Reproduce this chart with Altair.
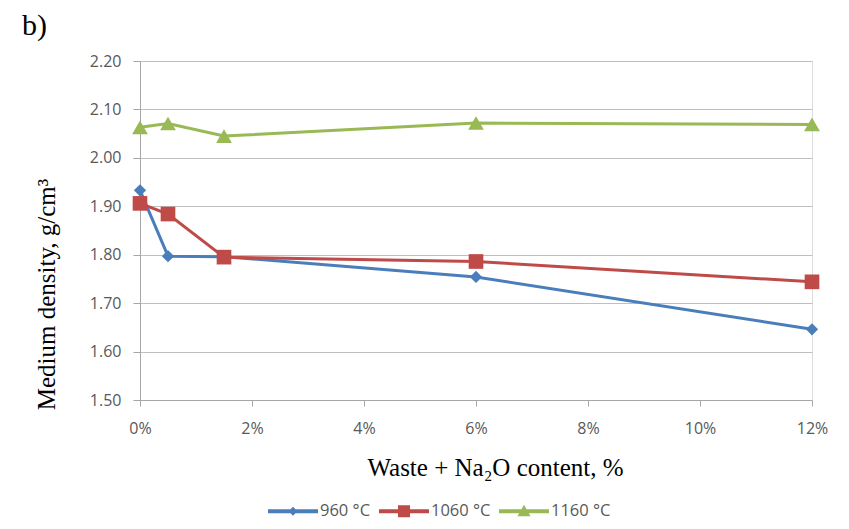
import altair as alt
import pandas as pd

# ---- data ----
x_pct = [0, 0.5, 1.5, 6, 12]
series_names = ["960 °C", "1060 °C", "1160 °C"]
d960 = [1.933, 1.797, 1.796, 1.754, 1.646]
d1060 = [1.906, 1.884, 1.795, 1.786, 1.744]
d1160 = [2.063, 2.071, 2.045, 2.072, 2.069]
y_ticks = [1.5, 1.6, 1.7, 1.8, 1.9, 2.0, 2.1, 2.2]
x_ticks = [0, 2, 4, 6, 8, 10, 12]

colors = ["#4A7EBB", "#BE4B48", "#98B954"]
marker_shapes = ["diamond", "square", "triangle-up"]
marker_sizes = [150, 215, 250]
legend_paths = [
    "M-1,-0.08L1,-0.08L1,0.08L-1,0.08Z M0,-0.18L0.18,0L0,0.18L-0.18,0Z",
    "M-1,-0.08L1,-0.08L1,0.08L-1,0.08Z M-0.24,-0.24L0.24,-0.24L0.24,0.24L-0.24,0.24Z",
    "M-1,-0.08L1,-0.08L1,0.08L-1,0.08Z M0,-0.26L0.26,0.2L-0.26,0.2Z",
]

rows = []
for name, vals in zip(series_names, [d960, d1060, d1160]):
    for xv, yv in zip(x_pct, vals):
        rows.append({"series": name, "x": xv, "y": yv})
df = pd.DataFrame(rows)

SANS = "Open Sans"
SERIF = "Liberation Serif"
GRAY_TXT = "#595959"

x_enc = alt.X(
    "x:Q",
    scale=alt.Scale(domain=[0, 12], nice=False, zero=True),
    axis=alt.Axis(
        values=x_ticks,
        labelExpr="datum.value + '%'",
        labelFlush=False,
        grid=False,
        tickSize=6,
        tickColor="#A6A6A6",
        domainColor="#A6A6A6",
        labelFont=SANS,
        labelFontSize=16,
        labelColor=GRAY_TXT,
        labelPadding=14,
        title="Waste + Na₂O content, %",
        titleFont=SERIF,
        titleFontSize=25,
        titleFontWeight="normal",
        titleColor="#000000",
        titleX=355,
        titleY=75,
        titleBaseline="alphabetic",
        titleAlign="center",
    ),
)
y_enc = alt.Y(
    "y:Q",
    scale=alt.Scale(domain=[1.5, 2.2], nice=False, zero=False),
    axis=alt.Axis(
        values=y_ticks,
        format=".2f",
        grid=True,
        gridColor="#BFBFBF",
        gridWidth=1,
        tickSize=7,
        tickColor="#A6A6A6",
        domainColor="#A6A6A6",
        labelFont=SANS,
        labelFontSize=16,
        labelColor=GRAY_TXT,
        labelPadding=12,
        title="Medium density, g/cm³",
        titleFont=SERIF,
        titleFontSize=25,
        titleFontWeight="normal",
        titleColor="#000000",
        titleAngle=-90,
        titleX=-86,
        titleY=233,
        titleAlign="center",
        titleBaseline="alphabetic",
    ),
)

base = alt.Chart(df)

layers = []
for i, (name, col) in enumerate(zip(series_names, colors)):
    sub = base.transform_filter(alt.datum.series == name)
    if i == 0:
        line = sub.mark_line(strokeWidth=3, color=col).encode(x=x_enc, y=y_enc)
    else:
        line = sub.mark_line(strokeWidth=3, color=col).encode(x="x:Q", y="y:Q")
    layers.append(line)
for name, col, shp, sz in zip(series_names, colors, marker_shapes, marker_sizes):
    sub = base.transform_filter(alt.datum.series == name)
    layers.append(
        sub.mark_point(filled=True, shape=shp, size=sz, opacity=1, color=col).encode(x="x:Q", y="y:Q")
    )

# legend only: no rows drawn, entries come from the explicit scale domain
legend_layer = base.transform_filter("false").mark_point(filled=True, opacity=1).encode(
    x="x:Q",
    y="y:Q",
    color=alt.Color(
        "series:N",
        scale=alt.Scale(domain=series_names, range=colors),
        legend=alt.Legend(
            title=None,
            orient="none",
            direction="horizontal",
            legendX=128,
            legendY=425,
            padding=0,
            symbolSize=2500,
            symbolOpacity=1,
            symbolStrokeWidth=0,
            labelFont=SANS,
            labelFontSize=16.5,
            labelColor=GRAY_TXT,
            labelOffset=2,
            columnPadding=8,
        ),
    ),
    shape=alt.Shape(
        "series:N",
        scale=alt.Scale(domain=series_names, range=legend_paths),
    ),
)
layers.append(legend_layer)

title_df = pd.DataFrame({"t": ["b)"]})
title_mark = alt.Chart(title_df).mark_text(
    font=SERIF, fontSize=30, align="left", baseline="alphabetic", color="#000000"
).encode(text="t:N", x=alt.value(-118), y=alt.value(-26))
layers.append(title_mark)

chart = (
    alt.layer(*layers)
    .properties(
        width=672,
        height=339,
        autosize=alt.AutoSizeParams(type="none"),
        padding={"left": 132, "top": 53, "right": 29, "bottom": 121},
    )
    .configure_view(stroke=None)
    .configure(background="#FFFFFF")
)

chart.save("out.html", embed_options={"renderer": "svg", "actions": False})
